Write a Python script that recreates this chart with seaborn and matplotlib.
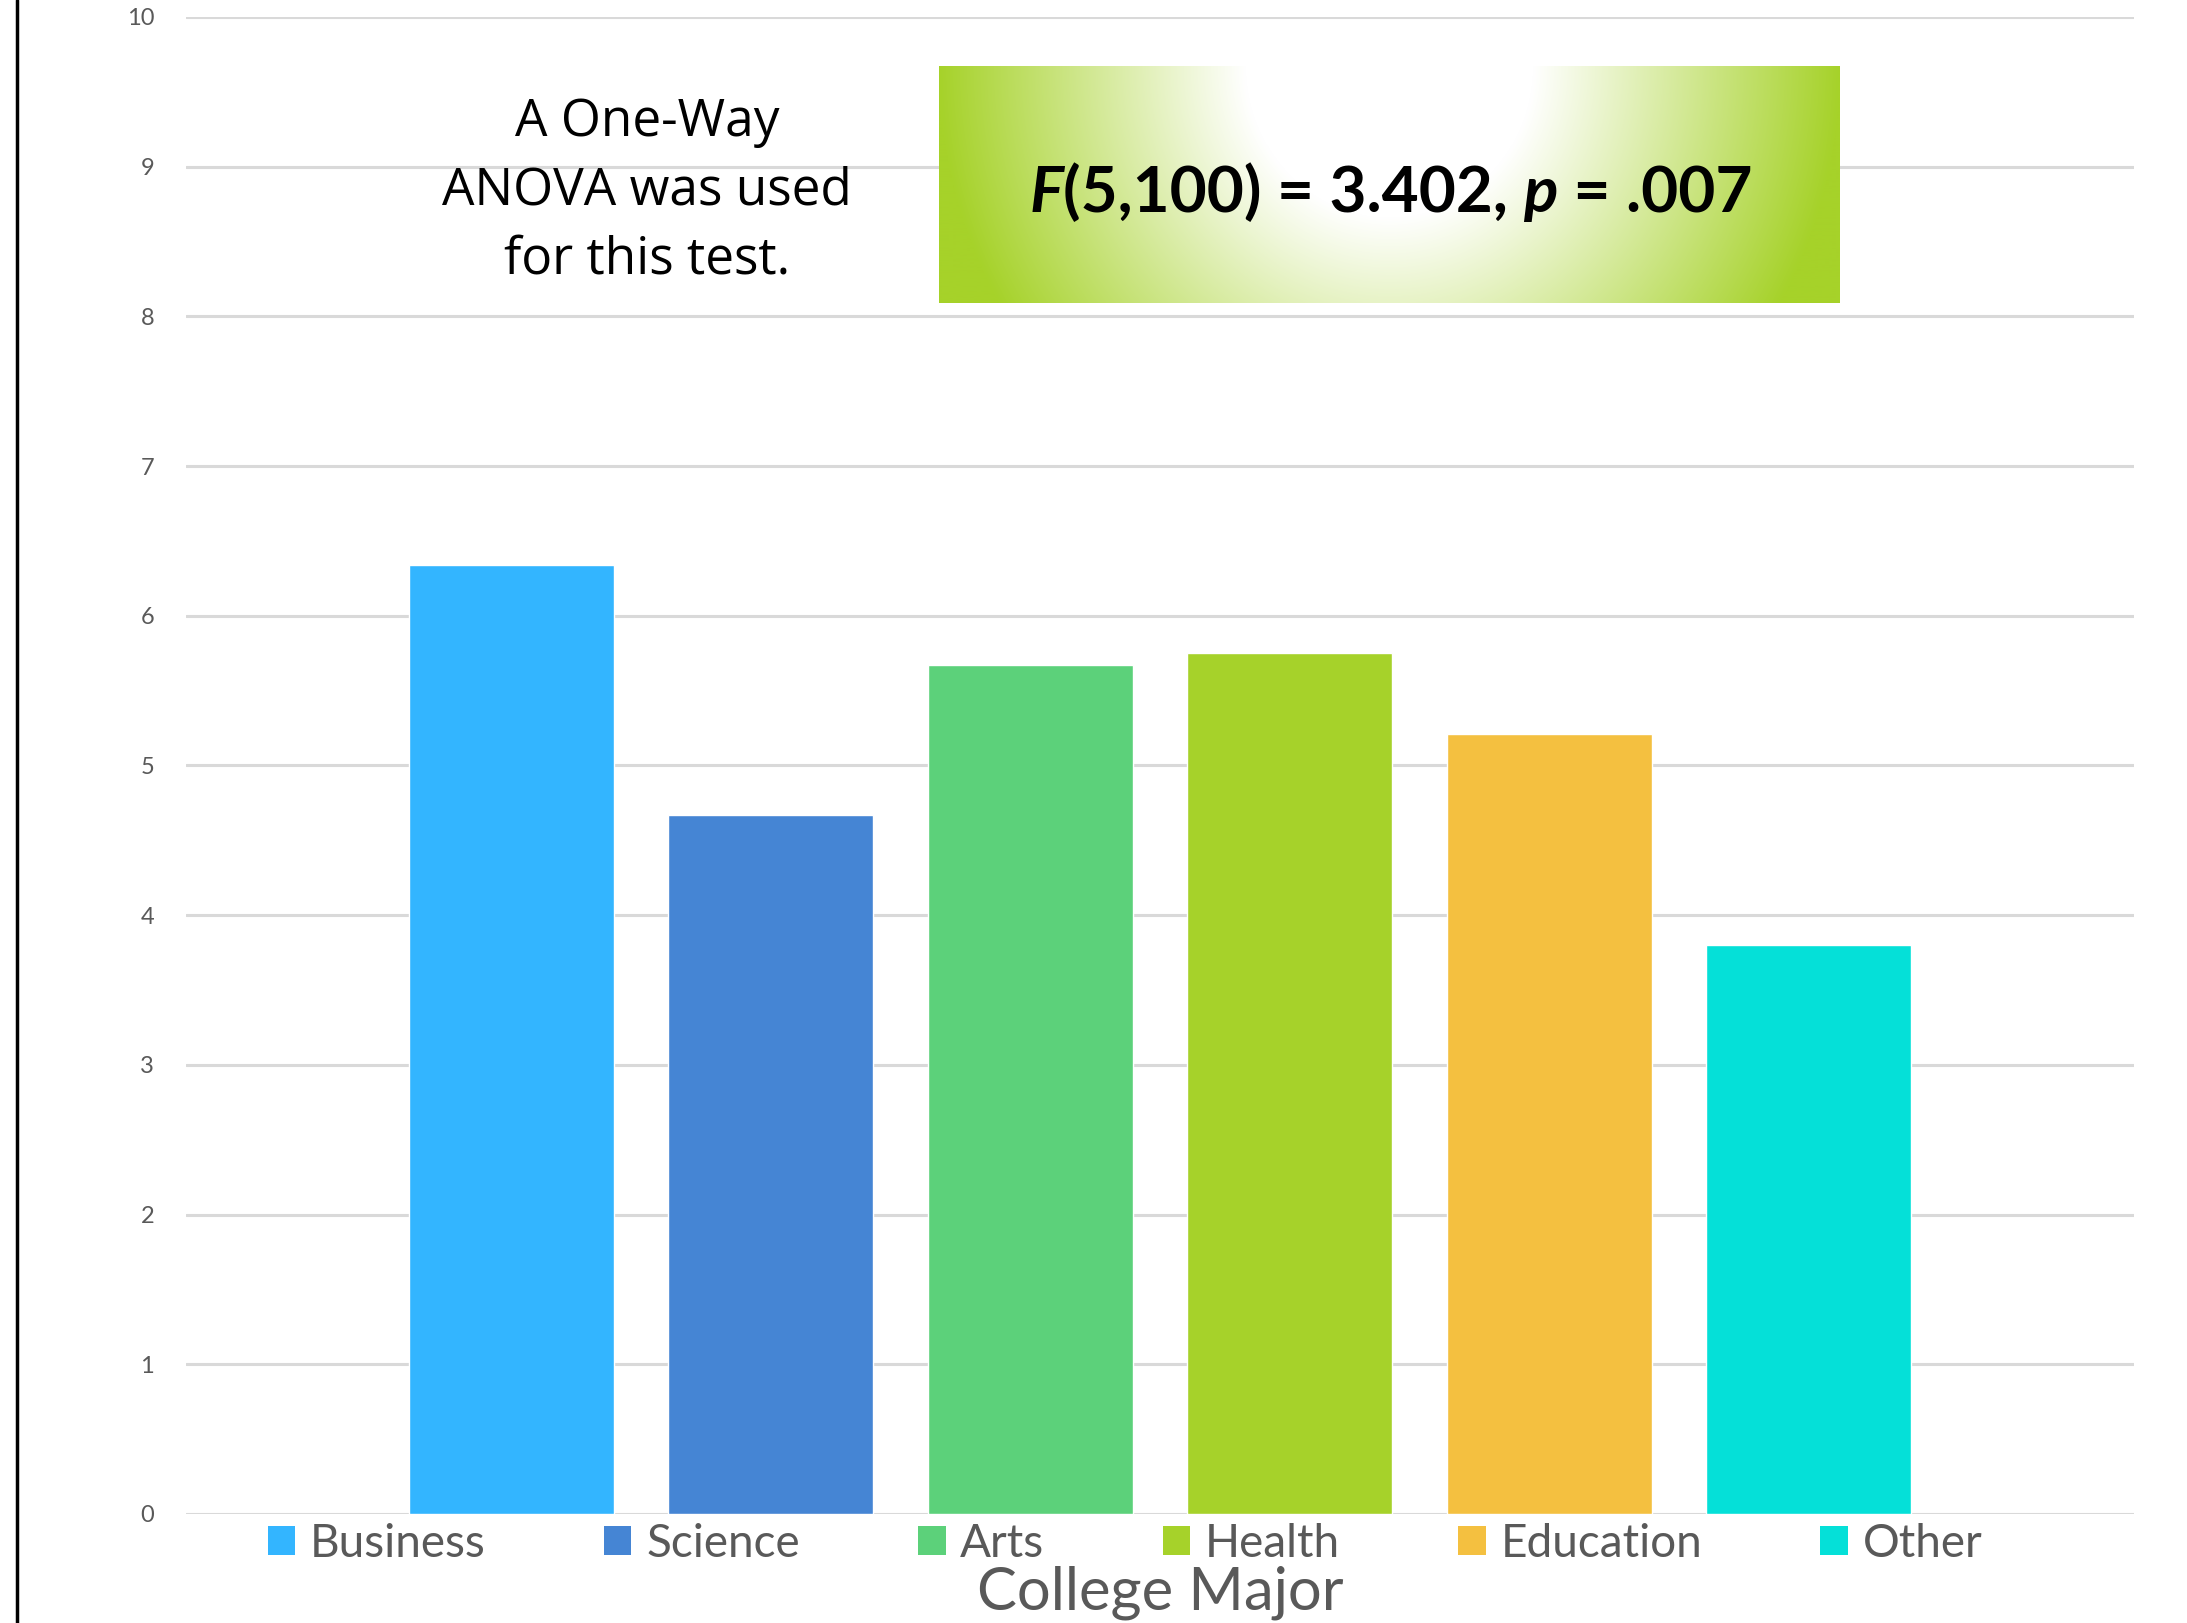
import numpy as np
import pandas as pd
import matplotlib
matplotlib.use("Agg")
import matplotlib.pyplot as plt
from matplotlib.patches import Patch
from matplotlib.lines import Line2D
import seaborn as sns

# Mean score by college major
majors = ["Business", "Science", "Arts", "Health", "Education", "Other"]
means = [6.34, 4.67, 5.67, 5.75, 5.21, 3.80]
bar_colors = ["#33B5FF", "#4585D4", "#5CD17A", "#A6D22A", "#F4C040", "#05E0D8"]
y_ticks = list(range(0, 11))
stat_parts = [("F", "italic"), ("(5,100) = 3.402, ", "normal"), ("p", "italic"), (" = .007", "normal")]
note_text = "A One-Way\nANOVA was used\nfor this test."
x_title = "College Major"

sns.set_theme(style="white")
plt.rcParams["font.family"] = ["Lato", "DejaVu Sans"]

W, H = 2187, 1623
fig = plt.figure(figsize=(W / 100, H / 100), dpi=100)
fig.patch.set_facecolor("white")

ax = fig.add_axes([186 / W, 1 - 1514 / H, (2134 - 186) / W, (1514 - 17) / H])
df = pd.DataFrame({"major": majors, "mean": means})
sns.barplot(data=df, x="major", y="mean", hue="major", palette=bar_colors,
            order=majors, hue_order=majors, width=0.79, saturation=1,
            legend=False, ax=ax, zorder=3)

ax.set_ylim(0, 10)
ax.set_xlim(-1.255, 6.255)
ax.set_yticks(y_ticks)
ax.set_yticklabels([str(t) for t in y_ticks], fontsize=17, color="#595959")
ax.set_xticks([])
ax.set_xlabel("")
ax.set_ylabel("")
ax.yaxis.grid(True, color="#D9D9D9", linewidth=2.2, zorder=0)
ax.set_axisbelow(True)
ax.tick_params(axis="y", length=0, pad=23)
for s in ax.spines.values():
    s.set_visible(False)
ax.patch.set_alpha(0)

# Legend row below the bars
handles = [Patch(facecolor=c, edgecolor="none") for c in bar_colors]
leg = ax.legend(handles, majors, loc="center", ncol=6, frameon=False,
                bbox_to_anchor=(1125 / W, 1 - 1544 / H), bbox_transform=fig.transFigure,
                fontsize=33, handlelength=0.6, handleheight=0.6,
                handletextpad=0.32, columnspacing=2.58, labelcolor="#595959")

fig.text(1160 / W, 1 - 1609 / H, x_title, ha="center", va="baseline",
         fontsize=43, color="#595959")

# Left border line
fig.add_artist(Line2D([17 / W, 17 / W], [0, 1], color="black", lw=2.5,
                      transform=fig.transFigure))

# Note text
fig.text(647 / W, 1 - 191 / H, note_text, ha="center", va="center",
         fontsize=37, color="black", family=["Open Sans", "DejaVu Sans"],
         linespacing=1.45, multialignment="center")

# Statistic box with a green-to-white gradient
bx = fig.add_axes([939 / W, 1 - 303 / H, (1840 - 939) / W, (303 - 66) / H])
gx = np.linspace(0, 1, 900)
gy = np.linspace(0, 1, 240)
X, Y = np.meshgrid(gx, gy)
u = (X - 0.5) / 0.5
v = Y  # 0 at top
d = np.sqrt(u ** 2 + (v / 2.0) ** 2)
t = np.clip((d - 0.32) / 0.68, 0, 1)
green = np.array([166, 210, 42]) / 255.0
img = 1 - t[..., None] * (1 - green[None, None, :])
bx.imshow(img, extent=(0, 1, 0, 1), origin="upper", aspect="auto")
bx.set_xlim(0, 1)
bx.set_ylim(0, 1)
bx.axis("off")

prev = None
for txt, style in stat_parts:
    if prev is None:
        prev = bx.text(0.1, 0.34, txt, ha="left", va="bottom", fontsize=46,
                       fontweight="bold", style=style, color="black")
    else:
        prev = bx.annotate(txt, xy=(1, 0), xycoords=prev, ha="left", va="bottom",
                           fontsize=46, fontweight="bold", style=style, color="black")

fig.savefig("out.png", dpi=100)
